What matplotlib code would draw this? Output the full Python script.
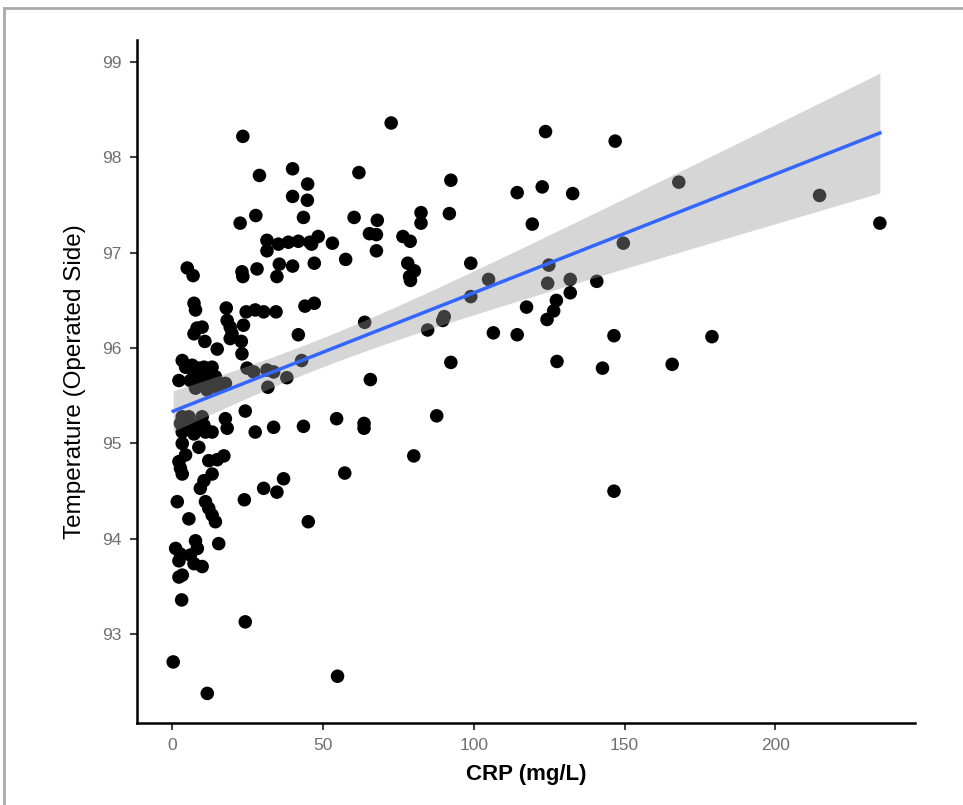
import numpy as np
import matplotlib
matplotlib.use('Agg')
import matplotlib.pyplot as plt
from matplotlib.lines import Line2D

# CRP (mg/L) vs temperature on operated side
crp = [
    23.4, 28.9, 39.9, 44.9, 39.9, 44.8, 27.7, 22.5, 43.5, 60.3, 61.9,
    31.4, 35.2, 38.5, 41.8, 45.6, 48.4, 46.2,
    31.4, 53.1, 57.5, 47.1, 35.5, 39.9, 28.1, 34.7,
    4.95, 6.9, 23.1, 23.4,
    7.2, 7.7, 17.9, 24.5, 27.5, 30.3, 34.4, 44.0, 47.1,
    8.2, 7.2, 9.9, 18.2, 19.2, 19.8, 23.6, 19.2, 41.8, 10.8, 14.9, 22.9, 23.1,
    3.3, 4.4, 6.6, 8.8, 10.5, 13.2, 7.2, 9.9, 12.1, 14.3, 2.2, 6.0, 8.8, 12.1,
    15.4, 17.6, 7.7, 11.6, 14.9,
    24.8, 27.0, 31.4, 33.6, 38.0, 42.9, 31.7, 24.2,
    3.3, 5.5, 9.9, 2.7, 5.0, 7.7, 10.5, 13.2, 3.3, 7.2, 11.0, 17.6, 18.2,
    27.5, 33.6, 43.5, 54.5,
    3.3, 8.8, 4.4, 2.2, 2.7, 3.3, 12.1, 14.9, 17.1, 13.2, 10.5, 9.3, 36.9,
    30.3, 34.7, 57.2,
    1.65, 11.0, 12.1, 13.2, 14.3, 23.9, 5.5, 45.1,
    7.7, 8.3, 1.1, 2.7, 2.2, 6.0, 7.2, 9.9, 15.4, 2.2, 3.3, 3.1, 24.2, 0.3,
    11.6, 54.8,
    72.6, 123.8, 146.9, 92.4, 114.4, 122.7, 132.8, 68.0, 82.5, 82.5, 91.9,
    119.4, 65.4, 67.7, 76.5, 78.9, 67.7, 78.1, 80.3, 78.7, 79.0, 99.0, 104.9,
    124.9, 124.5, 132.0, 140.8, 149.6, 132.0, 127.4, 126.5, 124.3, 117.5,
    99.0, 63.8, 90.2, 89.7, 84.7, 106.5, 114.4, 146.5,
    92.4, 127.6, 142.7, 65.7, 63.6, 63.6, 87.7, 80.1, 146.5,
    168.0, 214.7, 234.7, 179.0, 165.8,
]
temp = [
    98.22, 97.81, 97.88, 97.72, 97.59, 97.55, 97.39, 97.31, 97.37, 97.37, 97.84,
    97.13, 97.09, 97.11, 97.12, 97.11, 97.17, 97.09,
    97.02, 97.10, 96.93, 96.89, 96.88, 96.86, 96.83, 96.75,
    96.84, 96.76, 96.80, 96.75,
    96.47, 96.40, 96.42, 96.38, 96.40, 96.38, 96.38, 96.44, 96.47,
    96.21, 96.15, 96.22, 96.29, 96.22, 96.15, 96.24, 96.10, 96.14, 96.07, 95.99, 96.07, 95.94,
    95.87, 95.80, 95.82, 95.79, 95.80, 95.80, 95.73, 95.72, 95.73, 95.70, 95.66, 95.66, 95.63, 95.63,
    95.63, 95.63, 95.58, 95.56, 95.59,
    95.79, 95.75, 95.77, 95.75, 95.69, 95.87, 95.59, 95.34,
    95.28, 95.28, 95.28, 95.21, 95.21, 95.19, 95.19, 95.12, 95.12, 95.10, 95.12, 95.26, 95.16,
    95.12, 95.17, 95.18, 95.26,
    95.00, 94.96, 94.88, 94.81, 94.74, 94.68, 94.82, 94.83, 94.87, 94.68, 94.61, 94.53, 94.63,
    94.53, 94.49, 94.69,
    94.39, 94.39, 94.32, 94.25, 94.18, 94.41, 94.21, 94.18,
    93.98, 93.90, 93.90, 93.84, 93.77, 93.83, 93.74, 93.71, 93.95, 93.60, 93.62, 93.36, 93.13, 92.71,
    92.38, 92.56,
    98.36, 98.27, 98.17, 97.76, 97.63, 97.69, 97.62, 97.34, 97.42, 97.31, 97.41,
    97.30, 97.20, 97.19, 97.17, 97.12, 97.02, 96.89, 96.81, 96.75, 96.71, 96.89, 96.72,
    96.87, 96.68, 96.72, 96.70, 97.10, 96.58, 96.50, 96.39, 96.30, 96.43,
    96.54, 96.27, 96.33, 96.29, 96.19, 96.16, 96.14, 96.13,
    95.85, 95.86, 95.79, 95.67, 95.21, 95.16, 95.29, 94.87, 94.50,
    97.74, 97.60, 97.31, 96.12, 95.83,
]

x_ticks = [0, 50, 100, 150, 200]
y_ticks = [93, 94, 95, 96, 97, 98, 99]

plt.rcParams['font.family'] = ['Liberation Sans', 'DejaVu Sans']

x = np.array(crp)
y = np.array(temp)

# linear fit with 95% confidence band (like geom_smooth(method='lm'))
n = len(x)
b1, b0 = np.polyfit(x, y, 1)
resid = y - (b0 + b1 * x)
s = np.sqrt(np.sum(resid ** 2) / (n - 2))
xs = np.linspace(x.min(), x.max(), 200)
fit = b0 + b1 * xs
se = s * np.sqrt(1.0 / n + (xs - x.mean()) ** 2 / np.sum((x - x.mean()) ** 2))
tcrit = 1.973

fig = plt.figure(figsize=(9.63, 8.05), dpi=100)
ax = fig.add_axes([0.1423, 0.1019, 0.808, 0.8484])

ax.scatter(x, y, s=95, color='black', edgecolors='none', zorder=2)
ax.fill_between(xs, fit - tcrit * se, fit + tcrit * se, color='#999999',
                alpha=0.4, linewidth=0, zorder=3)
ax.plot(xs, fit, color='#3366FF', linewidth=2.5, zorder=4)

ax.set_xlim(-11.7, 246.4)
ax.set_ylim(92.07, 99.23)
ax.set_xticks(x_ticks)
ax.set_yticks(y_ticks)

for side in ['top', 'right']:
    ax.spines[side].set_visible(False)
for side in ['left', 'bottom']:
    ax.spines[side].set_linewidth(1.8)
    ax.spines[side].set_color('black')
ax.tick_params(axis='both', length=5, width=1.5, color='#444444',
               labelsize=12.5, labelcolor='#707070', pad=6)

ax.set_xlabel('CRP (mg/L)', fontsize=16, fontweight='bold', labelpad=8)
ax.set_ylabel('Temperature (Operated Side)', fontsize=17.5, labelpad=12)

# thin grey frame around the picture
fig.add_artist(Line2D([4 / 963, 1], [1 - 8 / 805, 1 - 8 / 805],
                      color='#aaaaaa', linewidth=2, transform=fig.transFigure))
fig.add_artist(Line2D([4 / 963, 4 / 963], [0, 1 - 8 / 805],
                      color='#aaaaaa', linewidth=2, transform=fig.transFigure))

fig.savefig('out.png', dpi=100)
